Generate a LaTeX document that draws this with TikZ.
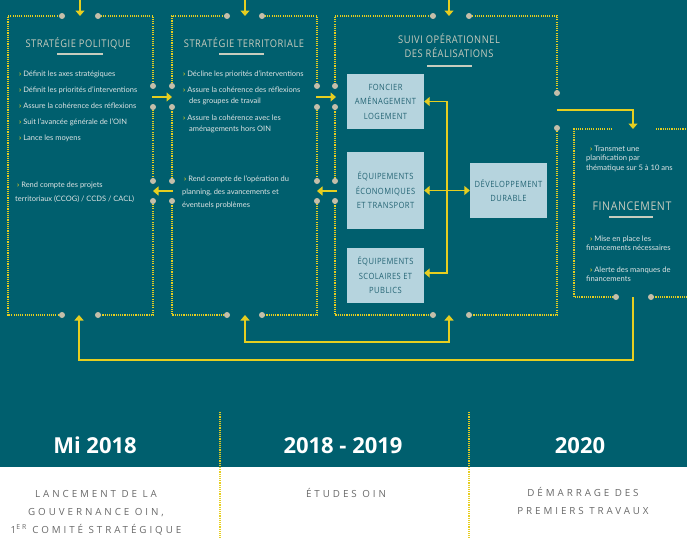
\documentclass[tikz,border=0pt]{standalone}
\usepackage{fontspec}
\setmainfont{Open Sans}
\newfontfamily\bodyfont{Lato}
\newfontfamily\headfont[FakeStretch=0.88, LetterSpace=5]{Open Sans}
\newfontfamily\capsfont[LetterSpace=30]{Open Sans}
\usetikzlibrary{arrows.meta, positioning, calc}

\definecolor{oinTeal}{RGB}{0,95,110}
\definecolor{oinYellow}{RGB}{230,206,32}
\definecolor{oinDot}{RGB}{196,190,170}
\definecolor{oinPale}{RGB}{182,212,222}
\definecolor{oinInk}{RGB}{36,100,116}
\definecolor{oinHead}{RGB}{200,204,190}
\definecolor{oinText}{RGB}{222,228,228}
\definecolor{oinGrey}{RGB}{105,105,105}

\newcommand{\chev}{{\color{oinYellow}\bfseries ›}\ }

\begin{document}
\begin{tikzpicture}[
    x=1pt, y=-1pt,
    frame/.style={draw=oinYellow, line width=1.1pt, dash pattern=on 1.1pt off 1.1pt},
    arrow/.style={draw=oinYellow, line width=1.5pt, -{Triangle[width=9pt,length=5.5pt]}},
    twoway/.style={arrow, {Triangle[width=9pt,length=5.5pt]}-{Triangle[width=9pt,length=5.5pt]}},
    boxtitle/.style={text=oinHead, font=\headfont\fontsize{10.6}{13}\selectfont, anchor=base, inner sep=0pt},
    titlerule/.style={draw=oinHead, line width=1.3pt},
    item/.style={text=oinText, font=\bodyfont\fontsize{7.5}{11}\selectfont, anchor=base west, align=left, inner sep=0pt},
    theme/.style={rectangle, fill=oinPale, text=oinInk, minimum width=77pt, minimum height=55pt, align=center, font=\headfont\fontsize{8.6}{14.5}\selectfont, inner sep=0pt},
    year/.style={text=white, font=\bfseries\fontsize{22}{26}\selectfont, anchor=base, inner sep=0pt},
    phase/.style={text=oinGrey, font=\capsfont\fontsize{9.8}{18}\selectfont, anchor=base, align=center, inner sep=0pt}
]

\useasboundingbox (0,0) rectangle (687,538);
\fill[oinTeal] (0,0) rectangle (687,467);
\fill[white] (0,467) rectangle (687,538);

% Frames
\draw[frame] (62,16) -- (8,16) -- (8,315) -- (62,315) (98,315) -- (153,315) -- (153,201)
    (153,181) -- (153,107) (153,86) -- (153,16) -- (98,16);
\draw[frame] (227,16) -- (172,16) -- (172,86) (172,107) -- (172,181) (172,201) -- (172,315) -- (227,315)
    (262,315) -- (317,315) -- (317,201) (317,181) -- (317,107) (317,86) -- (317,16) -- (262,16);
\draw[frame] (433,16) -- (335,16) -- (335,86) (335,107) -- (335,181) (335,201) -- (335,315) -- (433,315)
    (469,315) -- (557,315) -- (557,128) (557,93) -- (557,16) -- (469,16);
\draw[frame] (612,129) -- (574,129) -- (574,297) -- (616,297) (651,297) -- (690,297) (656,129) -- (690,129);

\foreach \p in {(62,16),(98,16),(62,315),(98,315),(153,86),(153,107),(153,181),(153,201),
    (227,16),(262,16),(227,315),(262,315),(172,86),(172,107),(172,181),(172,201),
    (317,86),(317,107),(317,181),(317,201),
    (433,16),(469,16),(433,315),(469,315),(335,86),(335,107),(335,181),(335,201),
    (557,93),(557,128),(616,297),(651,297)}
    \fill[oinDot] \p circle[radius=3pt];

% Stratégie politique
\node[boxtitle] (polTitle) at (78,47) {STRATÉGIE POLITIQUE};
\draw[titlerule] (57,54) -- (103,54);
\node[item, font=\bodyfont\fontsize{7.5}{16}\selectfont] (polRoles) at (19,140)
    {\chev Définit les axes stratégiques\\\chev Définit les priorités d’interventions\\
     \chev Assure la cohérence des réflexions\\\chev Suit l’avancée générale de l’OIN\\\chev Lance les moyens};
\node[item, font=\bodyfont\fontsize{7.5}{14}\selectfont] (polReport) at (15,201)
    {\hspace*{2pt}\chev Rend compte des projets\\territoriaux (CCOG) / CCDS / CACL)};

% Stratégie territoriale
\node[boxtitle] (terrTitle) at (244,47) {STRATÉGIE TERRITORIALE};
\draw[titlerule] (219,54) -- (264,54);
\node[item] (terrPrio) at (183,76) {\chev Décline les priorités d’interventions};
\node[item] (terrGroups) at (183,103) {\chev Assure la cohérence des réflexions\\\hspace*{6pt}des groupes de travail};
\node[item] (terrHors) at (183,131) {\chev Assure la cohérence avec les\\\hspace*{6pt}aménagements hors OIN};
\node[item, font=\bodyfont\fontsize{7.5}{13}\selectfont] (terrReport) at (182,207)
    {\hspace*{2pt}\chev Rend compte de l’opération du\\planning, des avancements et\\éventuels problèmes};

% Suivi opérationnel
\node[boxtitle] (suiviTitle) at (449,43) {SUIVI OPÉRATIONNEL};
\node[boxtitle] (suiviTitleB) at (449,57) {DES RÉALISATIONS};
\draw[titlerule] (427,66) -- (472,66);
\node[theme] (foncier) at (385.5,101.5) {FONCIER\\AMÉNAGEMENT\\LOGEMENT};
\node[theme, minimum height=77pt] (eco) at (385.5,190.5) {ÉQUIPEMENTS\\ÉCONOMIQUES\\ET TRANSPORT};
\node[theme] (publics) at (385.5,275.5) {ÉQUIPEMENTS\\SCOLAIRES ET\\PUBLICS};
\node[theme] (durable) at (508.5,190.5) {DÉVELOPPEMENT\\DURABLE};

% Financement
\node[item, font=\bodyfont\fontsize{7.6}{9.7}\selectfont] (finPlan) at (586,170.4)
    {\hspace*{4pt}\chev Transmet une\\planification par\\thématique sur 5 à 10 ans};
\node[boxtitle, font=\headfont\fontsize{12}{13}\selectfont] (finTitle) at (632,210) {FINANCEMENT};
\draw[titlerule] (609,217) -- (653,217);
\node[item, font=\bodyfont\fontsize{7.6}{9.7}\selectfont] (finNeeds) at (586,250.7)
    {\hspace*{4pt}\chev Mise en place les\\financements nécessaires};
\node[item, font=\bodyfont\fontsize{7.6}{9.7}\selectfont] (finAlert) at (586,281.7)
    {\hspace*{4pt}\chev Alerte des manques de\\financements};

% Connections
\coordinate (polIn) at (80,-2);     \coordinate (polTop) at (80,16);
\coordinate (terrIn) at (245,-2);   \coordinate (terrTop) at (245,16);
\coordinate (suiviIn) at (449,-2);  \coordinate (suiviTop) at (449,16);
\draw[arrow] (polIn) -- (polTop);
\draw[arrow] (terrIn) -- (terrTop);
\draw[arrow] (suiviIn) -- (suiviTop);

\coordinate (polE1) at (152,97);   \coordinate (terrW1) at (172,97);
\coordinate (polE2) at (153,191);  \coordinate (terrW2) at (173,191);
\coordinate (terrE1) at (316,97);  \coordinate (suiviW1) at (336,97);
\coordinate (terrE2) at (317,191); \coordinate (suiviW2) at (337,191);
\draw[arrow] (polE1) -- (terrW1);
\draw[arrow] (terrW2) -- (polE2);
\draw[arrow] (terrE1) -- (suiviW1);
\draw[arrow] (suiviW2) -- (terrE2);

\coordinate (spine) at ($(eco.east)!0.5!(durable.west)$);
\draw[twoway] (eco.east) -- (durable.west);
\draw[arrow] (spine) |- (foncier.east);
\draw[arrow] (spine) |- ([yshift=2.5pt]publics.east);

\coordinate (suiviE) at (557,110); \coordinate (finTop) at (633,129);
\draw[arrow] (suiviE) -| (finTop);

\coordinate (finBot) at (633,297); \coordinate (polBot) at (79,315);
\coordinate (loopL) at (79,360);
\draw[arrow] (finBot) |- (loopL) -- (polBot);

\coordinate (terrBot) at (245,315); \coordinate (suiviBot) at (449,315);
\coordinate (innerL) at (245,342);
\draw[twoway] (terrBot) -- (innerL) -| (suiviBot);

% Timeline
\draw[frame] (220,412) -- (220,538);
\draw[frame] (469,412) -- (469,538);
\node[year] (y2018) at (95,453) {Mi 2018};
\node[year] (y2019) at (343,453) {2018 - 2019};
\node[year] (y2020) at (580,453) {2020};
\node[phase] (launch) at (96,533) {LANCEMENT DE LA\\GOUVERNANCE OIN,\\1\textsuperscript{ER} COMITÉ STRATÉGIQUE};
\node[phase] (studies) at (346,497) {ÉTUDES OIN};
\node[phase] (works) at (583,514) {DÉMARRAGE DES\\PREMIERS TRAVAUX};

\end{tikzpicture}
\end{document}
